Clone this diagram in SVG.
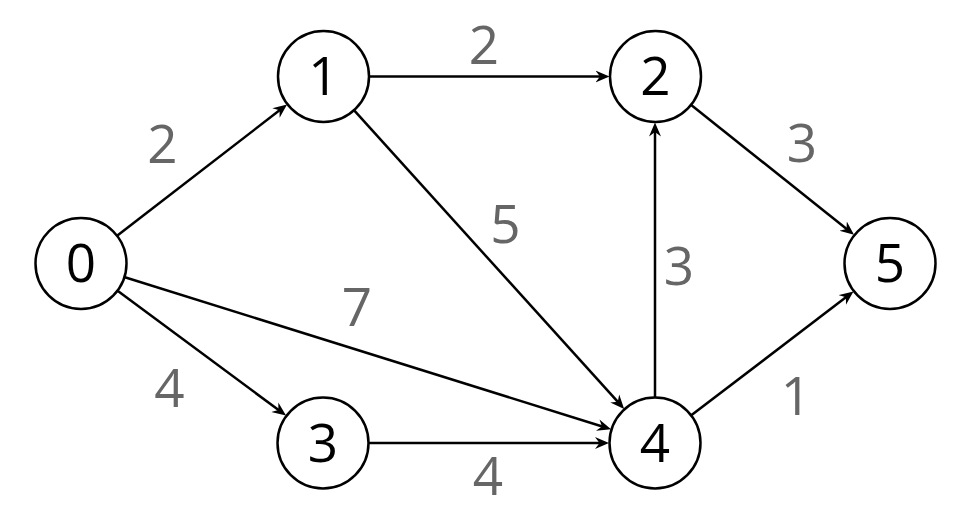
<svg xmlns="http://www.w3.org/2000/svg" width="979" height="520" viewBox="0 0 979 520">
<style>
.node circle{fill:#fff;stroke:#000;stroke-width:2.5}
.node text{font-family:"Open Sans","Noto Sans",sans-serif;font-size:53px;fill:#000;text-anchor:middle}
.edges line{stroke:#000;stroke-width:2.5;marker-end:url(#arr)}
.lbl text{font-family:"Open Sans","Noto Sans",sans-serif;font-size:53px;fill:#666;text-anchor:middle}
</style>
<defs>
<marker id="arr" markerUnits="userSpaceOnUse" markerWidth="15" markerHeight="13" refX="9" refY="6.5" orient="auto">
<path d="M14,6.5 L0,0.5 L4.5,6.5 L0,12.5 Z" fill="#000"/>
</marker>
</defs>
<rect width="979" height="520" fill="#fff"/>
<g class="edges">
<line x1="117.4" y1="235.4" x2="283.1" y2="107.6"/>
<line x1="369.5" y1="76.5" x2="604.5" y2="76.5"/>
<line x1="354.4" y1="110.6" x2="620.8" y2="405.2"/>
<line x1="124.9" y1="277.2" x2="606.3" y2="427.8"/>
<line x1="117.9" y1="290.9" x2="282" y2="412.6"/>
<line x1="369" y1="443" x2="604" y2="443"/>
<line x1="655" y1="397" x2="655" y2="127.5"/>
<line x1="691.5" y1="105.2" x2="850.1" y2="231.7"/>
<line x1="691.6" y1="415.1" x2="849.5" y2="294.5"/>
</g>
<g class="lbl">
<text x="162.5" y="163">2</text>
<text x="484" y="64">2</text>
<text x="505.5" y="243">5</text>
<text x="357" y="326">7</text>
<text x="169.5" y="407">4</text>
<text x="488" y="495">4</text>
<text x="679" y="285">3</text>
<text x="802" y="162">3</text>
<text x="796" y="415">1</text>
</g>
<g id="node0" class="node"><circle cx="81" cy="263.5" r="45.5"/><text x="81" y="282">0</text></g>
<g id="node1" class="node"><circle cx="323.5" cy="76.5" r="45.5"/><text x="323.5" y="95">1</text></g>
<g id="node2" class="node"><circle cx="655.5" cy="76.5" r="45.5"/><text x="655.5" y="95">2</text></g>
<g id="node3" class="node"><circle cx="323" cy="443" r="45.5"/><text x="323" y="461.5">3</text></g>
<g id="node4" class="node"><circle cx="655" cy="443" r="45.5"/><text x="655" y="461.5">4</text></g>
<g id="node5" class="node"><circle cx="890" cy="263.5" r="45.5"/><text x="890" y="282">5</text></g>
</svg>
